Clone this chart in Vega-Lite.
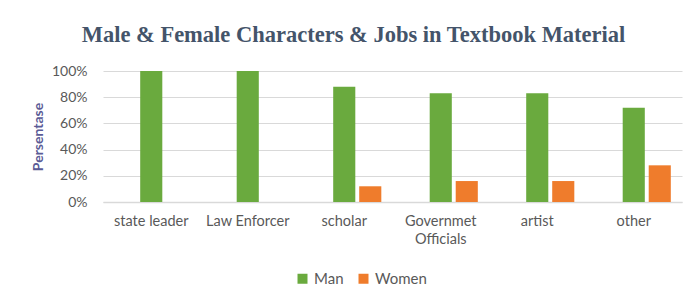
{
  "$schema": "https://vega.github.io/schema/vega-lite/v6.json",
  "width": 579,
  "height": 131,
  "autosize": "none",
  "padding": {"left": 103, "top": 71, "right": 11, "bottom": 96},
  "background": "white",
  "title": {
    "text": "Male & Female Characters & Jobs in Textbook Material",
    "font": "Liberation Serif",
    "fontSize": 22.5,
    "fontWeight": "bold",
    "color": "#44546A",
    "anchor": "middle",
    "dx": -39,
    "offset": 18
  },
  "data": {
    "values": [
      {"job": "state leader", "gender": "Man", "value": 1.0},
      {"job": "state leader", "gender": "Women", "value": 0.0},
      {"job": "Law Enforcer", "gender": "Man", "value": 1.0},
      {"job": "Law Enforcer", "gender": "Women", "value": 0.0},
      {"job": "scholar", "gender": "Man", "value": 0.88},
      {"job": "scholar", "gender": "Women", "value": 0.12},
      {"job": "Governmet Officials", "gender": "Man", "value": 0.83},
      {"job": "Governmet Officials", "gender": "Women", "value": 0.16},
      {"job": "artist", "gender": "Man", "value": 0.83},
      {"job": "artist", "gender": "Women", "value": 0.16},
      {"job": "other", "gender": "Man", "value": 0.72},
      {"job": "other", "gender": "Women", "value": 0.28}
    ]
  },
  "mark": {"type": "bar"},
  "encoding": {
    "x": {
      "field": "job",
      "type": "nominal",
      "sort": null,
      "scale": {"paddingInner": 0, "paddingOuter": 0},
      "axis": {
        "title": null,
        "labelAngle": 0,
        "labelFont": "Lato",
        "labelFontSize": 14.5,
        "labelColor": "#595959",
        "labelPadding": 12,
        "labelLineHeight": 18,
        "labelExpr": "datum.value == 'Governmet Officials' ? ['Governmet', 'Officials'] : datum.value",
        "ticks": false,
        "domain": true,
        "domainColor": "#D9D9D9",
        "domainWidth": 1.5,
        "grid": false
      }
    },
    "xOffset": {
      "field": "gender",
      "type": "nominal",
      "scale": {"domain": ["_", "Man", "Women"], "paddingInner": 0.15, "paddingOuter": 0.43}
    },
    "y": {
      "field": "value",
      "type": "quantitative",
      "scale": {"domain": [0, 1]},
      "axis": {
        "title": "Persentase",
        "titleFont": "Lato",
        "titleFontSize": 14,
        "titleFontWeight": "bold",
        "titleColor": "#5B5B96",
        "titlePadding": 6,
        "format": "%",
        "values": [0, 0.2, 0.4, 0.6, 0.8, 1],
        "labelFont": "Lato",
        "labelFontSize": 14,
        "labelColor": "#595959",
        "labelPadding": 16,
        "ticks": false,
        "domain": false,
        "gridColor": "#D9D9D9",
        "gridWidth": 1
      }
    },
    "color": {
      "field": "gender",
      "type": "nominal",
      "scale": {"domain": ["Man", "Women"], "range": ["#6AAA3E", "#EF7C2C"]},
      "legend": {
        "title": null,
        "orient": "none",
        "direction": "horizontal",
        "legendX": 192,
        "legendY": 200,
        "symbolType": "square",
        "symbolSize": 100,
        "symbolStrokeWidth": 0,
        "labelFont": "Lato",
        "labelFontSize": 15,
        "labelColor": "#595959",
        "labelOffset": 4,
        "columnPadding": 12
      }
    }
  },
  "config": {"view": {"stroke": null}}
}
